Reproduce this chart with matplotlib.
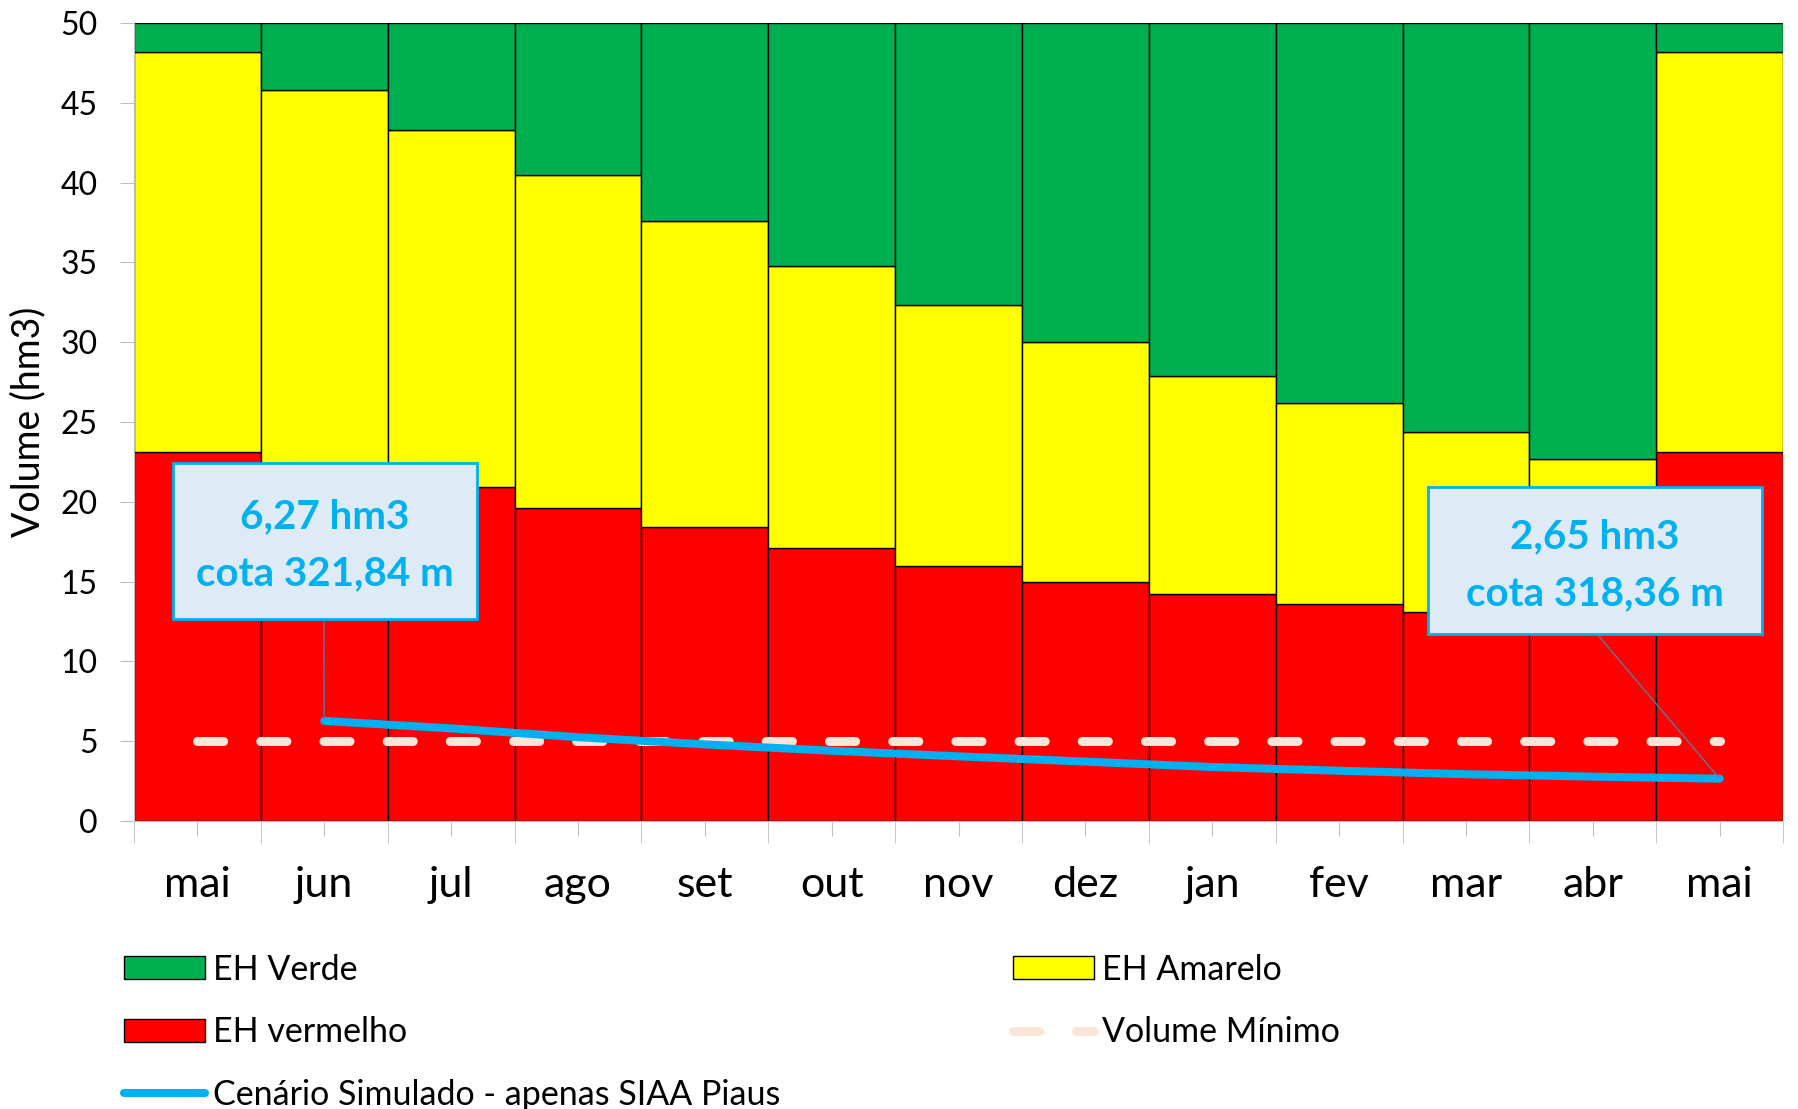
import numpy as np
import matplotlib.pyplot as plt
from matplotlib.patches import Patch, Rectangle
from matplotlib.lines import Line2D

months = ['mai', 'jun', 'jul', 'ago', 'set', 'out', 'nov', 'dez', 'jan', 'fev', 'mar', 'abr', 'mai']
# upper limit of each state (hm3)
lim_vermelho = [23.1, 22.0, 20.9, 19.6, 18.4, 17.1, 16.0, 15.0, 14.2, 13.6, 13.1, 12.5, 23.1]
lim_amarelo = [48.2, 45.8, 43.3, 40.5, 37.6, 34.8, 32.3, 30.0, 27.9, 26.2, 24.4, 22.7, 48.2]
lim_verde = [50, 50, 50, 50, 50, 50, 50, 50, 50, 50, 50, 50, 50]
volume_minimo = [5, 5, 5, 5, 5, 5, 5, 5, 5, 5, 5, 5, 5]
# simulated scenario, jun -> mai
cenario = [6.27, 5.80, 5.25, 4.80, 4.40, 4.05, 3.72, 3.38, 3.15, 2.93, 2.78, 2.65]
notas = [(1, '6,27 hm3', 'cota 321,84 m'), (12, '2,65 hm3', 'cota 318,36 m')]

VERDE = '#00B050'
AMARELO = '#FFFF00'
VERMELHO = '#FF0000'
AZUL = '#00B0F0'
PESSEGO = '#FBE5D6'
CINZA = '#BFBFBF'

plt.rcParams['font.family'] = ['Lato', 'DejaVu Sans']

fig = plt.figure(figsize=(17.98, 11.09), dpi=100)
ax = fig.add_axes([0.0745, 0.2597, 0.9172, 0.7196])

x = np.arange(len(months))
verm = np.array(lim_vermelho)
amar = np.array(lim_amarelo)
verd = np.array(lim_verde)

ax.bar(x, verm, width=1, color=VERMELHO, edgecolor='black', linewidth=1)
ax.bar(x, amar - verm, bottom=verm, width=1, color=AMARELO, edgecolor='black', linewidth=1)
ax.bar(x, verd - amar, bottom=amar, width=1, color=VERDE, edgecolor='black', linewidth=1)

ax.plot(x, volume_minimo, color=PESSEGO, lw=6.5, dashes=(2.9, 4.1),
        dash_capstyle='round', zorder=3)
ax.plot(x[1:], cenario, color=AZUL, lw=5.8, solid_capstyle='round', zorder=4)

ax.set_xlim(-0.5, len(months) - 0.5)
ax.set_ylim(0, 50)
ax.set_yticks(np.arange(0, 51, 5))
ax.set_xticks(x)
ax.set_xticklabels(months)
ax.set_xticks(np.arange(-0.5, len(months), 1), minor=True)

for s in ['top', 'right']:
    ax.spines[s].set_visible(False)
for s in ['left', 'bottom']:
    ax.spines[s].set_color(CINZA)

ax.tick_params(axis='y', length=10, color=CINZA, labelsize=23, pad=16)
ax.tick_params(axis='x', which='major', length=11, color=CINZA, labelsize=31, pad=21.5)
ax.tick_params(axis='x', which='minor', length=16, color=CINZA)
ax.set_ylabel('Volume (hm3)', fontsize=27, labelpad=10)

# callout boxes (axes fraction): left, bottom, width, height, leader x
caixas = [(0.0237, 0.2531, 0.1843, 0.1955, 0.1152),
          (0.7847, 0.2343, 0.2026, 0.1842, 0.8872)]
for (i, l1, l2), (bx, by, bw, bh, lx) in zip(notas, caixas):
    val = cenario[i - 1]
    ax.annotate('', xy=(x[i], val), xytext=(lx, by), textcoords='axes fraction',
                arrowprops=dict(arrowstyle='-', color='#5A7A9A', lw=1), zorder=5)
    ax.add_patch(Rectangle((bx, by), bw, bh, transform=ax.transAxes,
                           facecolor='#DEEBF7', edgecolor=AZUL, lw=2, zorder=6))
    cx = bx + bw / 2
    cy = by + bh / 2
    ax.text(cx, cy + 0.030, l1, transform=ax.transAxes, ha='center', va='center',
            fontsize=29, fontweight='bold', color=AZUL, zorder=7)
    ax.text(cx, cy - 0.041, l2, transform=ax.transAxes, ha='center', va='center',
            fontsize=29, fontweight='bold', color=AZUL, zorder=7)

leg_kw = dict(loc='upper left', frameon=False, fontsize=24.5, borderpad=0,
              borderaxespad=0, handlelength=2.38, handleheight=0.65,
              handletextpad=0.24, labelspacing=0.9)
h1 = [Patch(facecolor=VERDE, edgecolor='black', label='EH Verde'),
      Patch(facecolor=VERMELHO, edgecolor='black', label='EH vermelho'),
      Line2D([], [], color=AZUL, lw=5.8, solid_capstyle='round',
             label='Cenário Simulado - apenas SIAA Piaus')]
h2 = [Patch(facecolor=AMARELO, edgecolor='black', label='EH Amarelo'),
      Line2D([], [], color=PESSEGO, lw=6.5, dashes=(2.9, 4.1),
             dash_capstyle='round', label='Volume Mínimo')]
fig.legend(handles=h1, bbox_to_anchor=(0.069, 0.140), **leg_kw)
fig.legend(handles=h2, bbox_to_anchor=(0.5634, 0.140), **leg_kw)

fig.savefig('out.png', dpi=100)
